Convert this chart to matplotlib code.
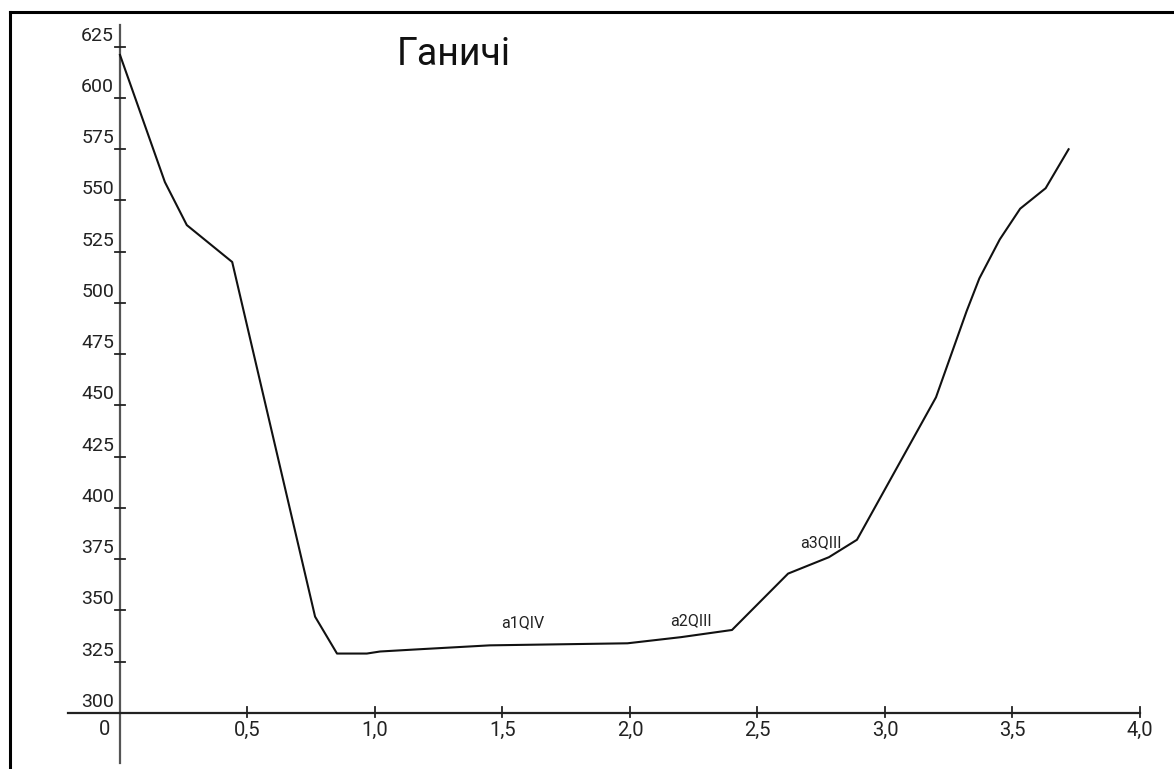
import matplotlib.pyplot as plt
import numpy as np

plt.rcParams['font.family'] = ['Roboto', 'DejaVu Sans']

# profile points: distance (km) vs elevation (m)
dist = [0.0, 0.176, 0.262, 0.44, 0.765, 0.851, 0.968, 1.02, 1.16, 1.45,
        1.99, 2.2, 2.4, 2.62, 2.78, 2.89, 3.2, 3.32, 3.37, 3.45, 3.53,
        3.63, 3.72]
elev = [621, 559, 538, 520, 347, 329, 329, 330, 331, 333,
        334, 337, 340.5, 368, 376, 384.5, 454, 496, 512, 531, 546,
        556, 575]

xticks = [0.5, 1.0, 1.5, 2.0, 2.5, 3.0, 3.5, 4.0]
xlabels = ['0,5', '1,0', '1,5', '2,0', '2,5', '3,0', '3,5', '4,0']
yticks = [325, 350, 375, 400, 425, 450, 475, 500, 525, 550, 575, 600, 625]

terraces = ['a1QIV', 'a2QIII', 'a3QIII']
terr_x = [1.58, 2.24, 2.75]
terr_y = [344, 345, 383]

fig = plt.figure(figsize=(11.74, 7.69), dpi=100)
ax = fig.add_axes([0, 0, 1, 1])
ax.set_xlim(-120 / 255, (1174 - 120) / 255)
ax.set_ylim(300 - 56 / 2.05, 300 + 713 / 2.05)
ax.axis('off')

axc = '#555555'
# axes lines drawn by hand like the sketch
ax.plot([0, 0], [300 - 50 / 2.05, 300 + 688 / 2.05], color=axc, lw=1.6)
ax.plot([-52 / 255, 4.0], [300, 300], color='#222222', lw=1.6)

for v in yticks:
    ax.plot([-5 / 255, 5 / 255], [v, v], color='#222222', lw=1.3)
    ax.text(-6 / 255, v + 1, str(v), ha='right', va='bottom', fontsize=14,
            color='#222222')
ax.text(-6 / 255, 300 + 1, '300', ha='right', va='bottom', fontsize=14,
        color='#222222')

for xv, lab in zip(xticks, xlabels):
    ax.plot([xv, xv], [300 - 4 / 2.05, 300 + 6 / 2.05], color='#222222', lw=1.3)
    ax.text(xv, 300 - 8 / 2.05, lab, ha='center', va='top', fontsize=14.5,
            color='#222222')
ax.text(-15 / 255, 300 - 7 / 2.05, '0', ha='center', va='top', fontsize=14.5,
        color='#222222')

ax.plot(dist, elev, color='#111111', lw=1.5)

for lab, tx, ty in zip(terraces, terr_x, terr_y):
    ax.text(tx, ty, lab, ha='center', va='center', fontsize=11.5, color='#222222')

ax.text(1.31, 621, 'Ганичі', ha='center', va='center', fontsize=27, color='#111111')

# frame (top and left edges visible in the scan)
fig.add_artist(plt.Line2D([10 / 1174, 1], [1 - 12 / 769, 1 - 12 / 769],
                          transform=fig.transFigure, color='black', lw=2.2))
fig.add_artist(plt.Line2D([10 / 1174, 10 / 1174], [0, 1 - 12 / 769],
                          transform=fig.transFigure, color='black', lw=2.2))

fig.savefig('out.png', dpi=100)
